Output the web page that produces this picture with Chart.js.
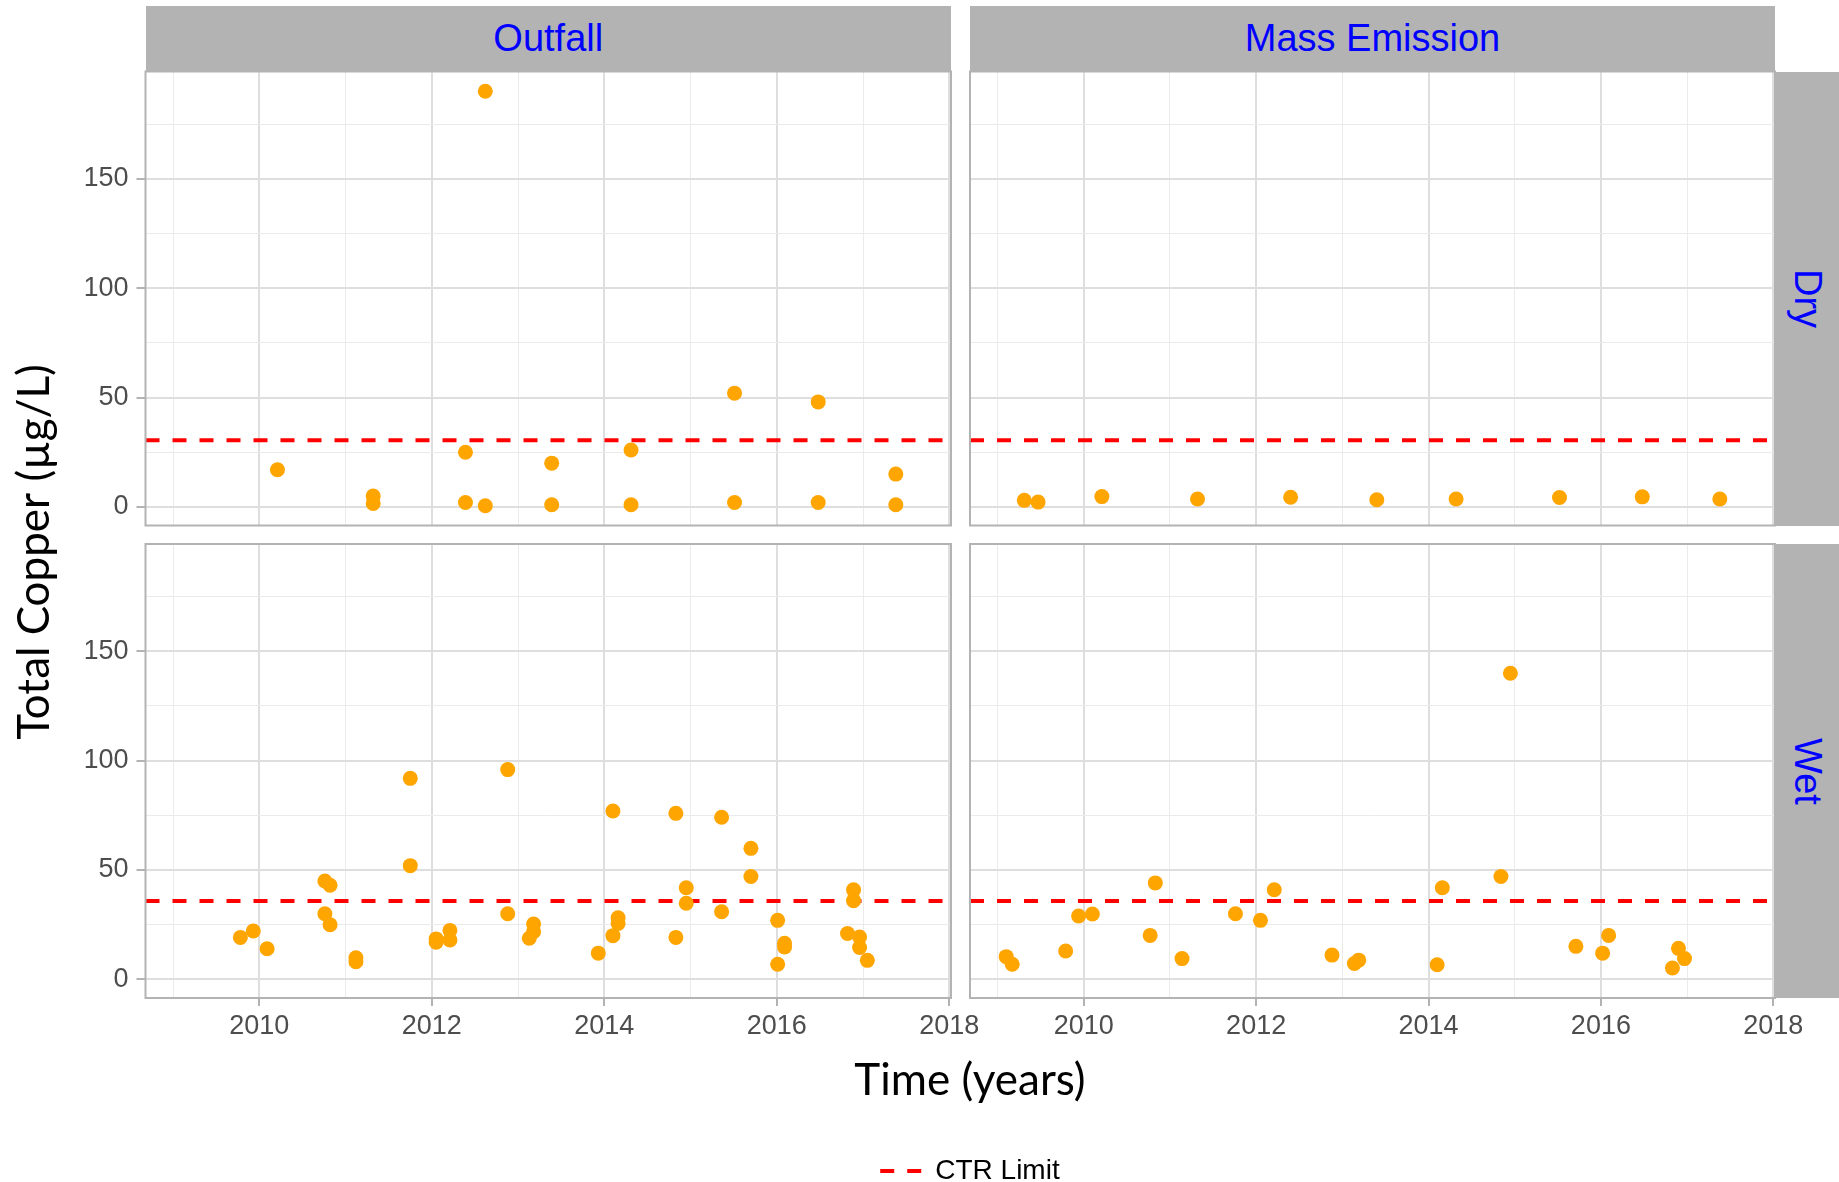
<!DOCTYPE html>
<html>
<head>
<meta charset="utf-8">
<title>Total Copper - Outfall / Mass Emission</title>
<script src="https://cdn.jsdelivr.net/npm/chart.js@4.4.1/dist/chart.umd.min.js"></script>
<style>
    body { margin: 0; background: #fff; overflow: hidden; }
    #page { position: relative; width: 1839px; height: 1182px; overflow: hidden; }
    canvas { position: absolute; left: 0; top: 0; }
    .strip {
        position: absolute;
        background: #b3b3b3;
        color: #0000ff;
        font-family: 'Liberation Sans', Arial, sans-serif;
        font-size: 38px;
        display: flex;
        align-items: center;
        justify-content: center;
    }
    .strip.side span { writing-mode: vertical-rl; }
</style>
</head>
<body>
<div id="page">
    <!-- frame is a bit taller than the page so the legend row is not clipped -->
    <canvas id="frame" width="1839" height="1195"></canvas>
    <canvas id="outfallDry" width="1839" height="1182"></canvas>
    <canvas id="massDry" width="1839" height="1182"></canvas>
    <canvas id="outfallWet" width="1839" height="1182"></canvas>
    <canvas id="massWet" width="1839" height="1182"></canvas>

    <div class="strip" style="left:145.5px; top:6px; width:805.5px; height:65.5px">Outfall</div>
    <div class="strip" style="left:970px; top:6px; width:805px; height:65.5px">Mass Emission</div>
    <div class="strip side" style="left:1775px; top:71.5px; width:64px; height:454px"><span>Dry</span></div>
    <div class="strip side" style="left:1775px; top:544px; width:64px; height:454px"><span>Wet</span></div>
</div>

<script>
// ---- data (decimal year, total copper in ug/L) ----

const outfallDryYear = [2010.21, 2011.32, 2011.32, 2012.39, 2012.39, 2012.62, 2012.62, 2013.39, 2013.39,
    2014.31, 2014.31, 2015.51, 2015.51, 2016.48, 2016.48, 2017.38, 2017.38]
const outfallDryCu = [17, 5, 1.6, 25, 2, 190, 0.5, 20, 1, 26, 1, 52, 2, 48, 2, 15, 1]

const massDryYear = [2009.31, 2009.47, 2010.21, 2011.32, 2012.40, 2013.40, 2014.32, 2015.52, 2016.48, 2017.38]
const massDryCu = [3.0, 2.2, 4.7, 3.6, 4.4, 3.3, 3.6, 4.3, 4.6, 3.6]

const outfallWetYear = [2009.78, 2009.93, 2010.09, 2010.76, 2010.82, 2010.76, 2010.82, 2011.12, 2011.12,
    2011.75, 2011.75, 2012.05, 2012.05, 2012.21, 2012.21, 2012.88, 2012.88, 2013.13, 2013.18, 2013.18,
    2013.93, 2014.10, 2014.10, 2014.16, 2014.16, 2014.83, 2014.83, 2014.95, 2014.95, 2015.36, 2015.36,
    2015.70, 2015.70, 2016.01, 2016.01, 2016.09, 2016.09, 2016.82, 2016.89, 2016.89, 2016.96, 2016.96, 2017.05]
const outfallWetCu = [19.2, 22.1, 14.0, 45.0, 43.0, 30.0, 25.0, 9.9, 8.1,
    91.9, 52.0, 18.5, 17.0, 22.4, 18.0, 95.9, 30.0, 18.8, 25.3, 21.8,
    12.0, 77.0, 20.0, 28.2, 25.6, 75.9, 19.2, 41.9, 34.8, 74.1, 30.9,
    59.9, 47.0, 27.0, 6.9, 16.5, 14.8, 21.0, 41.0, 36.0, 19.4, 14.6, 8.7]

const massWetYear = [2009.10, 2009.17, 2009.79, 2009.94, 2010.10, 2010.77, 2010.83, 2011.14, 2011.76,
    2012.05, 2012.21, 2012.88, 2013.14, 2013.19, 2014.10, 2014.16, 2014.84, 2014.95, 2015.71,
    2016.02, 2016.09, 2016.83, 2016.90, 2016.97]
const massWetCu = [10.4, 6.9, 13.0, 29.0, 29.9, 20.1, 44.1, 9.5, 30.0,
    27.0, 41.0, 11.1, 7.3, 8.8, 6.7, 41.9, 47.0, 139.9, 15.1,
    12.0, 20.1, 5.2, 14.2, 9.5]

// CTR limit per season
const ctrLimitDry = 30.5
const ctrLimitWet = 35.8

// labelled ticks
const yearTicks = [2010, 2012, 2014, 2016, 2018]
const cuTicks = [0, 50, 100, 150]

const X_MIN = 2008.68
const X_MAX = 2018.02
const Y_MIN = -8.5
const Y_MAX = 199

const POINT_COLOR = '#FFA500'
const LIMIT_COLOR = '#FF0000'
const GRID_MAJOR = '#DEDEDE'
const GRID_MINOR = '#EBEBEB'
const FRAME_COLOR = '#B3B3B3'
const TICK_FONT = { family: "'Liberation Sans', Arial, sans-serif", size: 27 }

const W = 1839
const H = 1182

// grey border around each panel, drawn on top like ggplot does
const panelFrame = {
    id: 'panelFrame',
    afterDraw(chart) {
        const { ctx, chartArea: a } = chart
        ctx.save()
        ctx.strokeStyle = FRAME_COLOR
        ctx.lineWidth = 2
        ctx.strokeRect(a.left, a.top, a.right - a.left, a.bottom - a.top)
        ctx.restore()
    }
}

function drawPanel(id, years, copper, limit, box, showX, showY) {
    const yW = showY ? 60 : 0
    const xH = showX ? 45 : 0

    new Chart(document.getElementById(id), {
        type: 'scatter',
        data: {
            datasets: [
                {
                    label: 'Total Copper',
                    data: years.map((yr, i) => ({ x: yr, y: copper[i] })),
                    backgroundColor: POINT_COLOR,
                    borderWidth: 0,
                    pointRadius: 7.5,
                    pointHoverRadius: 7.5
                },
                {
                    label: 'CTR Limit',
                    data: [{ x: X_MIN, y: limit }, { x: X_MAX, y: limit }],
                    showLine: true,
                    borderColor: LIMIT_COLOR,
                    borderWidth: 4,
                    borderDash: [14, 13],
                    pointRadius: 0
                }
            ]
        },
        options: {
            responsive: false,
            animation: false,
            events: [],
            layout: {
                padding: { left: box.left - yW, top: box.top, right: W - box.right, bottom: H - box.bottom - xH }
            },
            scales: {
                x: {
                    type: 'linear',
                    min: X_MIN,
                    max: X_MAX,
                    border: { display: false },
                    grid: {
                        color: c => (c.tick && c.tick.value % 2 === 0) ? GRID_MAJOR : GRID_MINOR,
                        lineWidth: c => (c.tick && c.tick.value % 2 === 0) ? 2 : 1,
                        drawTicks: showX,
                        tickLength: 8,
                        tickWidth: 2,
                        tickColor: c => (c.tick && yearTicks.includes(c.tick.value)) ? FRAME_COLOR : 'rgba(0,0,0,0)'
                    },
                    ticks: {
                        display: showX,
                        stepSize: 1,
                        includeBounds: false,
                        autoSkip: false,
                        maxRotation: 0,
                        maxTicksLimit: 20,
                        padding: 4,
                        color: '#4D4D4D',
                        font: TICK_FONT,
                        callback: v => yearTicks.includes(v) ? String(v) : ''
                    },
                    afterFit: s => { s.height = xH }
                },
                y: {
                    type: 'linear',
                    min: Y_MIN,
                    max: Y_MAX,
                    border: { display: false },
                    grid: {
                        color: c => (c.tick && c.tick.value % 50 === 0) ? GRID_MAJOR : GRID_MINOR,
                        lineWidth: c => (c.tick && c.tick.value % 50 === 0) ? 2 : 1,
                        drawTicks: showY,
                        tickLength: 9,
                        tickWidth: 2,
                        tickColor: c => (c.tick && cuTicks.includes(c.tick.value)) ? FRAME_COLOR : 'rgba(0,0,0,0)'
                    },
                    ticks: {
                        display: showY,
                        stepSize: 25,
                        includeBounds: false,
                        autoSkip: false,
                        maxTicksLimit: 20,
                        padding: 8,
                        color: '#4D4D4D',
                        font: TICK_FONT,
                        callback: v => cuTicks.includes(v) ? String(v) : ''
                    },
                    afterFit: s => { s.width = yW }
                }
            },
            plugins: {
                legend: { display: false },
                tooltip: { enabled: false }
            }
        },
        plugins: [panelFrame]
    })
}

// axis titles and the legend live on one full-size frame chart
new Chart(document.getElementById('frame'), {
    type: 'scatter',
    data: {
        datasets: [{
            label: 'CTR Limit',
            data: [],
            showLine: true,
            borderColor: LIMIT_COLOR,
            borderWidth: 4,
            borderDash: [14, 13],
            pointRadius: 0
        }]
    },
    options: {
        responsive: false,
        animation: false,
        events: [],
        layout: { padding: { left: 8, right: 0, top: 52.6, bottom: 0 } },
        scales: {
            x: {
                type: 'linear', min: 0, max: 1,
                ticks: { display: false },
                grid: { display: false, drawTicks: false },
                border: { display: false },
                title: {
                    display: true,
                    text: 'Time (years)',
                    color: '#000',
                    font: { family: 'Lato, sans-serif', size: 44 },
                    padding: { top: 0, bottom: 42.3 }
                },
                afterFit: s => { s.height = 98.6 }
            },
            y: {
                type: 'linear', min: 0, max: 1,
                ticks: { display: false },
                grid: { display: false, drawTicks: false },
                border: { display: false },
                title: {
                    display: true,
                    text: 'Total Copper (µg/L)',
                    color: '#000',
                    font: { family: 'Lato, sans-serif', size: 44 },
                    padding: { top: 0, bottom: 0 }
                },
                afterFit: s => { s.width = 92.9 }
            }
        },
        plugins: {
            tooltip: { enabled: false },
            legend: {
                position: 'bottom',
                fullSize: false,
                labels: {
                    usePointStyle: true,
                    pointStyleWidth: 41,
                    padding: 7,
                    color: '#000',
                    font: { family: "'Liberation Sans', Arial, sans-serif", size: 28 },
                    generateLabels: chart => chart.data.datasets.map((ds, i) => ({
                        text: ds.label,
                        pointStyle: 'line',
                        strokeStyle: ds.borderColor,
                        fillStyle: ds.borderColor,
                        lineWidth: ds.borderWidth,
                        lineDash: ds.borderDash,
                        fontColor: '#000',
                        datasetIndex: i
                    }))
                }
            }
        }
    }
})

drawPanel('outfallDry', outfallDryYear, outfallDryCu, ctrLimitDry, { left: 145.5, top: 71.5, right: 951, bottom: 525.5 }, false, true)
drawPanel('massDry', massDryYear, massDryCu, ctrLimitDry, { left: 970, top: 71.5, right: 1775, bottom: 525.5 }, false, false)
drawPanel('outfallWet', outfallWetYear, outfallWetCu, ctrLimitWet, { left: 145.5, top: 544, right: 951, bottom: 998 }, true, true)
drawPanel('massWet', massWetYear, massWetCu, ctrLimitWet, { left: 970, top: 544, right: 1775, bottom: 998 }, true, false)
</script>
</body>
</html>
